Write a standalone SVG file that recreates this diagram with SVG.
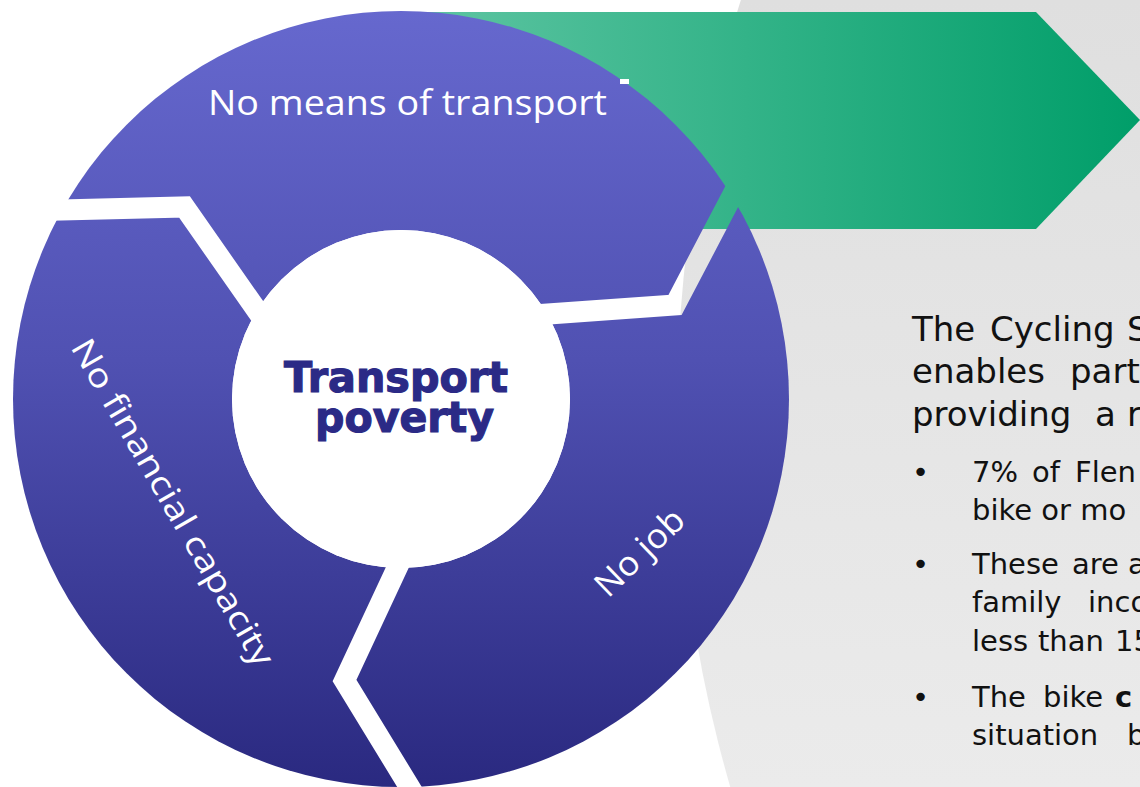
<svg xmlns="http://www.w3.org/2000/svg" width="1140" height="787" viewBox="0 0 1140 787">
  <style>
    .lbl { font-family: "Open Sans", "DejaVu Sans", sans-serif; fill: #ffffff; }
    .ctr { font-family: "DejaVu Sans", "Liberation Sans", sans-serif; font-weight: 900; fill: #2b2a86; stroke: #2b2a86; stroke-width: 1.2; font-size: 42px; }
    .body { font-family: "DejaVu Sans", "Liberation Sans", sans-serif; fill: #111111; }
    .p1 { font-size: 34px; }
    .bl { font-size: 29px; }
    .gap { fill: none; stroke: #000; stroke-width: 21; stroke-linejoin: miter; stroke-miterlimit: 10; }
  </style>
  <defs>
    <linearGradient id="purple" gradientUnits="userSpaceOnUse" x1="0" y1="11" x2="0" y2="787">
      <stop offset="0" stop-color="#6668ce"/>
      <stop offset="0.45" stop-color="#5051b2"/>
      <stop offset="1" stop-color="#2a2980"/>
    </linearGradient>
    <linearGradient id="green" gradientUnits="userSpaceOnUse" x1="430" y1="0" x2="1140" y2="0">
      <stop offset="0" stop-color="#5cc4a1"/>
      <stop offset="1" stop-color="#009e69"/>
    </linearGradient>
    <linearGradient id="gray" gradientUnits="userSpaceOnUse" x1="0" y1="0" x2="0" y2="787">
      <stop offset="0" stop-color="#dfdfdf"/>
      <stop offset="1" stop-color="#ebebeb"/>
    </linearGradient>
    <mask id="cut" maskUnits="userSpaceOnUse" x="-200" y="-200" width="1600" height="1200">
      <rect x="-200" y="-200" width="1600" height="1200" fill="#fff"/>
      <polyline class="gap" points="-100,214 184.5,207 330,415"/>
      <polyline class="gap" points="887,-100 675,305 450,321"/>
      <polyline class="gap" points="440,476 344.5,680.5 478.5,900"/>
      <circle cx="401" cy="399" r="169" fill="#000"/>
    </mask>
    <clipPath id="clipTop">
      <polygon points="401,399 257,311 184.5,207 -100,214 -100,-100 887,-100 675,305 549,314"/>
    </clipPath>
    <clipPath id="clipRight">
      <polygon points="401,399 549,314 675,305 887,-100 1300,-100 1300,900 478.5,900 344.5,680.5 397,568"/>
    </clipPath>
    <clipPath id="clipLeft">
      <polygon points="401,399 397,568 344.5,680.5 478.5,900 -100,900 -100,214 184.5,207 257,311"/>
    </clipPath>
  </defs>

  <rect x="0" y="0" width="1140" height="787" fill="#ffffff"/>

  <g id="panel-bg">
    <circle cx="2031" cy="411" r="1354" fill="url(#gray)"/>
  </g>

  <g id="arrow">
    <polygon points="400,12 1036,12 1140,120 1036,229 400,229" fill="url(#green)"/>
  </g>

  <g id="seg-transport">
    <circle cx="401" cy="399" r="388" fill="url(#purple)" clip-path="url(#clipTop)" mask="url(#cut)"/>
    <rect x="620" y="79" width="9" height="5" fill="#ffffff"/>
    <text class="lbl" x="208" y="115" font-size="35" textLength="399" lengthAdjust="spacingAndGlyphs">No means of transport</text>
  </g>

  <g id="seg-job">
    <circle cx="401" cy="399" r="388" fill="url(#purple)" clip-path="url(#clipRight)" mask="url(#cut)"/>
    <text class="lbl" font-size="34" transform="translate(608,599) rotate(-44)" textLength="110" lengthAdjust="spacingAndGlyphs">No job</text>
  </g>

  <g id="seg-financial">
    <circle cx="401" cy="399" r="388" fill="url(#purple)" clip-path="url(#clipLeft)" mask="url(#cut)"/>
    <text class="lbl" font-size="33" transform="translate(70,347) rotate(60)" textLength="372" lengthAdjust="spacingAndGlyphs">No financial capacity</text>
  </g>

  <g id="center">
    <circle cx="401" cy="399" r="169" fill="#ffffff"/>
    <text class="ctr" x="284" y="392" textLength="224" lengthAdjust="spacingAndGlyphs">Transport</text>
    <text class="ctr" x="315" y="432" textLength="179" lengthAdjust="spacingAndGlyphs">poverty</text>
  </g>

  <g id="connectors"></g>

  <g id="panel-text" class="body">
    <text class="p1" y="341"><tspan x="912">The</tspan><tspan x="990">Cycling</tspan><tspan x="1127">S</tspan></text>
    <text class="p1" y="383"><tspan x="912">enables</tspan><tspan x="1070">part</tspan></text>
    <text class="p1" y="426"><tspan x="912">providing</tspan><tspan x="1095">a</tspan><tspan x="1127">r</tspan></text>

    <text class="bl" x="912" y="482">•</text>
    <text class="bl" y="482"><tspan x="972">7%</tspan><tspan x="1032">of</tspan><tspan x="1075">Flen</tspan></text>
    <text class="bl" x="972" y="520">bike or mo</text>

    <text class="bl" x="912" y="574">•</text>
    <text class="bl" y="574"><tspan x="972">These</tspan><tspan x="1072">are</tspan><tspan x="1128">a</tspan></text>
    <text class="bl" y="612"><tspan x="972">family</tspan><tspan x="1088">inco</tspan></text>
    <text class="bl" y="651"><tspan x="972">less</tspan><tspan x="1038">than</tspan><tspan x="1115">15</tspan></text>

    <text class="bl" x="912" y="707">•</text>
    <text class="bl" y="707"><tspan x="972">The</tspan><tspan x="1043">bike</tspan><tspan x="1115" font-weight="bold">c</tspan></text>
    <text class="bl" y="745"><tspan x="972">situation</tspan><tspan x="1127">b</tspan></text>
  </g>
</svg>
